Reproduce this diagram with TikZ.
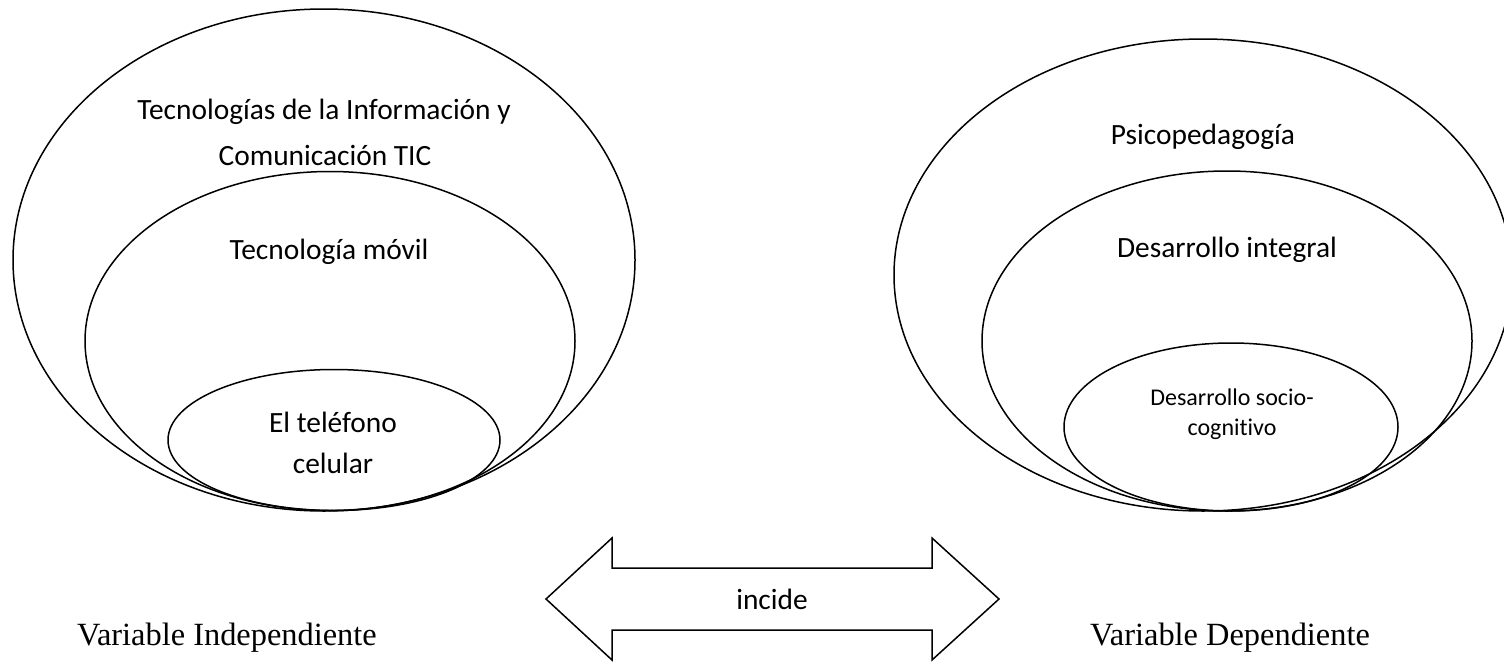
\documentclass[tikz,border=0pt]{standalone}
\usepackage{fontspec}
\setmainfont{Carlito}[Ligatures=NoCommon]
\newfontfamily\timesf{Liberation Serif}
\usetikzlibrary{shapes.geometric}
\begin{document}
\begin{tikzpicture}[x=0.5pt,y=-0.5pt,line width=0.75pt,
  ring/.style={draw,ellipse,inner sep=0pt,outer sep=0pt},
  lbl/.style={font=\fontsize{14.7}{17}\selectfont,inner sep=0pt},
  small/.style={font=\fontsize{12}{14}\selectfont,inner sep=0pt},
  var/.style={font=\timesf\fontsize{16.2}{19}\selectfont,inner sep=0pt}]
\useasboundingbox (0,0) rectangle (1504,664);
% left set
\node[ring,minimum width=311pt,minimum height=251pt] (lo) at (324,260) {};
\node[ring,minimum width=245pt,minimum height=169.5pt] (lm) at (330,341) {};
\node[ring,minimum width=166pt,minimum height=70.5pt] (li) at (334,440) {};
\node[lbl] (t1) at (324,112) {Tecnologías de la Información y};
\node[lbl] (t2) at (325,155) {Comunicación TIC};
\node[lbl] (t3) at (329,252) {Tecnología móvil};
\node[lbl] (t4) at (333,422) {El teléfono};
\node[lbl] (t5) at (333,463) {celular};
% right set
\node[ring,minimum width=309pt,minimum height=236pt] (ro) at (1203,275) {};
\node[ring,minimum width=245pt,minimum height=170pt] (rm) at (1227,341) {};
\node[ring,minimum width=167pt,minimum height=84pt] (ri) at (1231,427) {};
\node[lbl] (r1) at (1203,137) {Psicopedagogía};
\node[lbl] (r2) at (1227,250) {Desarrollo integral};
\node[small] (r3) at (1232,397) {Desarrollo socio-};
\node[small] (r4) at (1232,429) {cognitivo};
% double arrow
\coordinate (a1) at (546,599);
\coordinate (a2) at (612,538);
\coordinate (a3) at (612,568);
\coordinate (a4) at (932,568);
\coordinate (a5) at (932,538);
\coordinate (a6) at (999,599);
\coordinate (a7) at (932,660);
\coordinate (a8) at (932,630);
\coordinate (a9) at (612,630);
\coordinate (a10) at (612,660);
\draw[line join=miter] (a1) -- (a2) -- (a3) -- (a4) -- (a5) -- (a6) -- (a7) -- (a8) -- (a9) -- (a10) -- cycle;
\node[lbl] (inc) at (772,599) {incide};
% variable labels
\node[var] (vi) at (227,638) {Variable Independiente};
\node[var] (vd) at (1230,638) {Variable Dependiente};
\end{tikzpicture}
\end{document}
